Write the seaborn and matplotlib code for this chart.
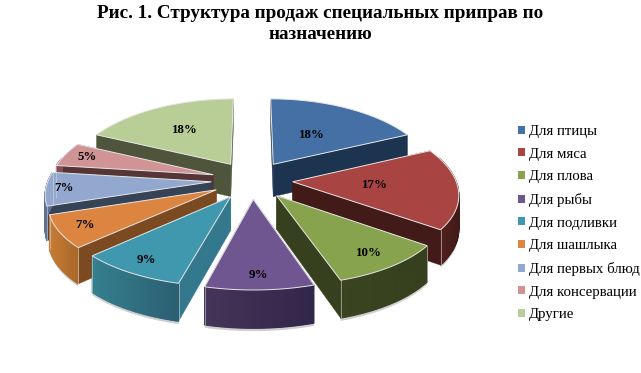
import numpy as np
import matplotlib
matplotlib.use('Agg')
import matplotlib.pyplot as plt
import matplotlib.colors as mcolors
from matplotlib.patches import Polygon, Patch
import seaborn as sns

# данные
categories = ['Для птицы', 'Для мяса', 'Для плова', 'Для рыбы', 'Для подливки',
              'Для шашлыка', 'Для первых блюд', 'Для консервации', 'Другие']
shares = [18, 17, 10, 9, 9, 7, 7, 5, 18]
title = 'Рис. 1. Структура продаж специальных приправ по\nназначению'

# цвета
top_colors = ['#4470a6', '#a84442', '#87a34e', '#6f5690', '#3f98ae',
              '#db8540', '#93a8ce', '#d09494', '#b9cd96']
wall_colors = ['#1d3450', '#421a18', '#37401e', '#3e2f52', '#33788c',
               '#7c4a20', '#364256', '#553535', '#4f553a']
arc_left = ['#1d3450', '#5a2422', '#3a4420', '#453558', '#35808f',
            '#c67c34', '#5d7090', '#805050', '#6a7050']
arc_right = ['#1d3450', '#421a18', '#37401e', '#32264a', '#2b5f72',
             '#a8682a', '#5d7090', '#805050', '#6a7050']
label_r = [0.5, 0.5, 0.82, 0.85, 0.85, 0.85, 0.89, 0.85, 0.6]

# геометрия псевдо-3D
cx, cy = 252, 180
R, A = 163, 75.9
kx, ky = 0.14, 0.11
explode = 0.25
depth = 33


def project(u, v, h=0):
    sx = 1 / (1 - kx * v)
    sy = 1 / (1 - ky * v)
    return cx + R * u * sx, cy + A * v * sy + h * sy


def mix(c1, c2, t):
    a, b = np.array(mcolors.to_rgb(c1)), np.array(mcolors.to_rgb(c2))
    return a + (b - a) * t


sns.set_theme(style='white')
plt.rcParams['font.family'] = ['Liberation Serif', 'DejaVu Serif']
palette = sns.color_palette(top_colors)

fig, ax = plt.subplots(figsize=(6.41, 3.73), dpi=100)
ax.set_position([0, 0, 1, 1])
ax.set_xlim(0, 641)
ax.set_ylim(373, 0)
ax.axis('off')

edges = np.cumsum([0] + shares) / sum(shares) * 2 * np.pi
mids = (edges[:-1] + edges[1:]) / 2

# сначала дальние сектора
for i in np.argsort(-np.cos(mids)):
    a = np.linspace(edges[i], edges[i + 1], 40)
    ox, oy = explode * np.sin(mids[i]), -explode * np.cos(mids[i])
    us = ox + np.sin(a)
    vs = oy - np.cos(a)

    # лёгкая тень под сектором
    front = vs > -0.6
    if front.any():
        low = [project(u, v, depth + 2.5) for u, v in zip(us[front], vs[front])]
        up = [project(u, v, depth - 2) for u, v in zip(us[front], vs[front])]
        ax.add_patch(Polygon(low + up[::-1], fc='#cfcfcf', ec='none'))

    # стенки: сперва радиальные, потом дуга
    for uu, vv in [(us[0], vs[0]), (us[-1], vs[-1])]:
        p = [project(ox, oy), project(uu, vv), project(uu, vv, depth), project(ox, oy, depth)]
        ax.add_patch(Polygon(p, fc=wall_colors[i], ec=wall_colors[i], lw=0.3))
    xs_seg = project(us, vs)[0]
    lo, hi = xs_seg.min(), xs_seg.max()
    for j in range(len(a) - 1):
        if vs[j] + vs[j + 1] <= -0.6:
            continue
        t = (xs_seg[j] - lo) / max(hi - lo, 1)
        col = mix(arc_left[i], arc_right[i], t)
        p = [project(us[j], vs[j]), project(us[j + 1], vs[j + 1]),
             project(us[j + 1], vs[j + 1], depth), project(us[j], vs[j], depth)]
        ax.add_patch(Polygon(p, fc=col, ec=col, lw=0.9))

    # светлые вертикальные рёбра
    for uu, vv in [(us[0], vs[0]), (us[-1], vs[-1])]:
        x0, y0 = project(uu, vv)
        x1, y1 = project(uu, vv, depth)
        if vv > -0.3:
            ax.plot([x0, x1], [y0, y1], color='#d8d8d8', lw=0.5, alpha=0.8)

    # верхняя грань
    top = [project(ox, oy)] + [project(u, v) for u, v in zip(us, vs)]
    ax.add_patch(Polygon(top, fc=palette[i], ec='#e6e6e6', lw=0.7))

# подписи сверху всех секторов
for i in range(len(shares)):
    rr = explode + label_r[i]
    x, y = project(rr * np.sin(mids[i]), -rr * np.cos(mids[i]))
    ax.text(x, y, f'{shares[i]}%', ha='center', va='center', fontsize=9.3,
            fontweight='bold', color='black')

handles = [Patch(fc=palette[i], ec='none', label=categories[i]) for i in range(len(categories))]
ax.legend(handles=handles, loc='upper left', bbox_to_anchor=(518, 125), bbox_transform=ax.transData,
          frameon=False, fontsize=10.7, handlelength=0.47, handleheight=0.47, handletextpad=0.25,
          labelspacing=0.65, borderpad=0, borderaxespad=0, labelcolor='black')

fig.text(0.5, 1 - 5 / 373, title, ha='center', va='top', fontsize=13.8, fontweight='bold',
         color='black', linespacing=1.3)

fig.savefig('out.png', dpi=100, facecolor='white')
